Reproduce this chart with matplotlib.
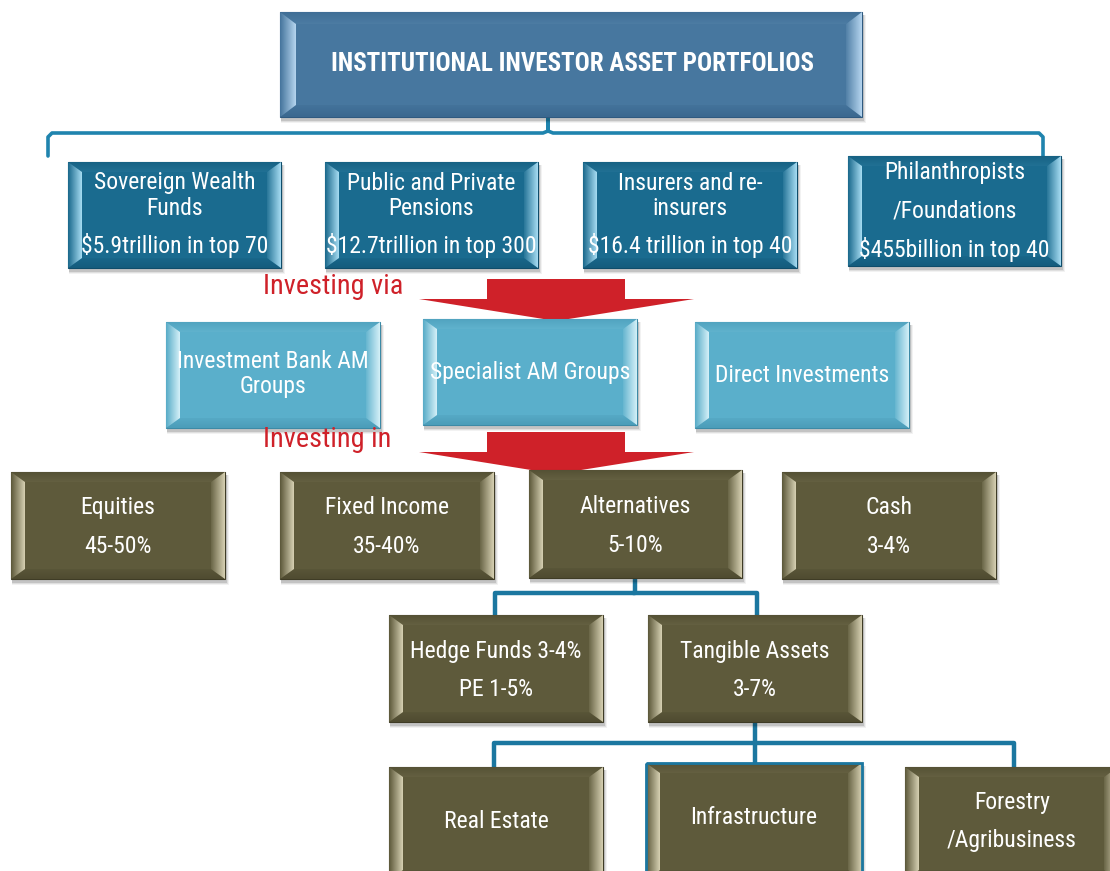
import matplotlib
matplotlib.use("Agg")
import matplotlib.pyplot as plt
import numpy as np
from matplotlib.patches import Polygon, Rectangle
from matplotlib.path import Path
from matplotlib.patches import PathPatch
from matplotlib.colors import to_rgb

# ---- content ----
title = "INSTITUTIONAL INVESTOR ASSET PORTFOLIOS"
investors = [["Sovereign Wealth", "Funds", "$5.9trillion in top 70"],
             ["Public and Private", "Pensions", "$12.7trillion in top 300"],
             ["Insurers and re-", "insurers", "$16.4 trillion in top 40"],
             ["Philanthropists", "/Foundations", "$455billion in top 40"]]
vehicles = [["Investment Bank AM", "Groups"], ["Specialist AM Groups"], ["Direct Investments"]]
asset_classes = [["Equities", "45-50%"], ["Fixed Income", "35-40%"],
                 ["Alternatives", "5-10%"], ["Cash", "3-4%"]]
alternatives = [["Hedge Funds 3-4%", "PE 1-5%"], ["Tangible Assets", "3-7%"]]
tangibles = [["Real Estate"], ["Infrastructure"], ["Forestry", "/Agribusiness"]]
arrow_labels = ["Investing via", "Investing in"]

FONT = ['Roboto Condensed', 'Liberation Sans', 'DejaVu Sans']

fig = plt.figure(figsize=(11.1, 8.71), dpi=100)
ax = fig.add_axes([0, 0, 1, 1])
ax.set_xlim(0, 1110)
ax.set_ylim(871, 0)
ax.axis('off')


def mix(c1, c2, t):
    a = np.array(to_rgb(c1)); b = np.array(to_rgb(c2))
    return a * (1 - t) + b * t


def grad_poly(verts, c_from, c_to, direction, z):
    verts = np.array(verts, float)
    xmin, ymin = verts.min(axis=0); xmax, ymax = verts.max(axis=0)
    n = 64
    t = np.linspace(0, 1, n)
    cols = np.array([mix(c_from, c_to, ti) for ti in t])
    if direction == 'x':
        img = cols[np.newaxis, :, :]
    else:
        img = cols[:, np.newaxis, :]
    im = ax.imshow(img, extent=(xmin, xmax, ymax, ymin), origin='upper',
                   aspect='auto', zorder=z, interpolation='bilinear')
    poly = Polygon(verts, closed=True, facecolor='none', edgecolor='none', zorder=z)
    ax.add_patch(poly)
    im.set_clip_path(poly)


def bevel_box(x0, y0, x1, y1, base, light, dark, z=3, bx=16, by=12, edge=None):
    # shadow
    for k, a in [(6, 0.05), (4, 0.08), (2, 0.12)]:
        ax.add_patch(Rectangle((x0 + 1, y0 + 3), x1 - x0 + k / 2, y1 - y0 + k / 2,
                               facecolor='black', edgecolor='none', alpha=a, zorder=z - 1))
    ax.add_patch(Rectangle((x0, y0), x1 - x0, y1 - y0, facecolor=base,
                           edgecolor=dark, lw=0.8, zorder=z))
    ix0, iy0, ix1, iy1 = x0 + bx, y0 + by, x1 - bx, y1 - by
    # top bevel
    grad_poly([(x0, y0), (x1, y0), (ix1, iy0), (ix0, iy0)],
              mix(base, dark, 0.3), mix(base, light, 0.05), 'y', z + 0.1)
    # bottom bevel
    grad_poly([(ix0, iy1), (ix1, iy1), (x1, y1), (x0, y1)],
              mix(base, dark, 0.15), mix(base, dark, 0.5), 'y', z + 0.1)
    # left bevel: base at outer -> light at inner
    grad_poly([(x0, y0), (ix0, iy0), (ix0, iy1), (x0, y1)],
              mix(base, dark, 0.1), light, 'x', z + 0.2)
    # right bevel: base inner -> light outer
    grad_poly([(ix1, iy0), (x1, y0), (x1, y1), (ix1, iy1)],
              mix(base, light, 0.1), light, 'x', z + 0.2)
    if edge is not None:
        ax.add_patch(Rectangle((x0, y0), x1 - x0, y1 - y0, facecolor='none',
                               edgecolor=edge, lw=2, zorder=z + 0.5))


def box_text(cx, lines_y, lines, size=17, weight='normal'):
    for ty, s in zip(lines_y, lines):
        ax.text(cx, ty, s, ha='center', va='center', color='white', fontsize=size,
                family=FONT, weight=weight, zorder=10)


# ---- connectors ----
LC = '#1b77a0'
bracket = Path([(48, 156), (48, 137), (52, 133), (543, 133), (548, 131), (548, 117),
                (548, 131), (553, 133), (1039, 133), (1043, 137), (1043, 156)],
               [Path.MOVETO] + [Path.LINETO] * 10)
ax.add_patch(PathPatch(bracket, facecolor='none', edgecolor='#1f84ae', lw=2.6,
                       capstyle='round', joinstyle='round', zorder=1))
ax.plot([635, 635, 495, 495], [578, 593, 593, 616], color=LC, lw=3.2, zorder=1, solid_joinstyle='round')
ax.plot([635, 757, 757], [593, 593, 616], color=LC, lw=3.2, zorder=1, solid_joinstyle='round')
ax.plot([755, 755], [722, 766], color=LC, lw=3.2, zorder=1)
ax.plot([494, 494, 1014, 1014], [768, 743, 743, 768], color=LC, lw=3.2, zorder=1, solid_joinstyle='round')

# ---- red arrows ----
RED = '#cf2129'
for (ry, lbl) in zip([279, 432], arrow_labels):
    ax.add_patch(Polygon([(487, ry), (625, ry), (625, ry + 20), (694, ry + 20),
                          (556, ry + 42), (419, ry + 20), (487, ry + 20)],
                         closed=True, facecolor=RED, edgecolor='none', zorder=2))
    ax.text(263, ry + 7, lbl, ha='left', va='center', color=RED, fontsize=20.3,
            family=FONT, zorder=10)

# ---- title ----
bevel_box(280, 12, 862, 117, '#47779f', '#b5d5ef', '#2f5a80', bx=16, by=12)
box_text(572, [64], [title], size=18, weight='bold')

# ---- investors ----
inv_pos = [(68, 162, 281, 268), (325, 162, 538, 268), (583, 162, 797, 268), (848, 156, 1061, 266)]
inv_ty = [[183, 208, 245], [183, 208, 245], [183, 208, 245], [173, 211, 249]]
for (x0, y0, x1, y1), lines, tys in zip(inv_pos, investors, inv_ty):
    bevel_box(x0, y0, x1, y1, '#1a6b8f', '#a6dcf2', '#0f4d6b', bx=14, by=10)
    box_text((x0 + x1) / 2, tys, lines)

# ---- vehicles ----
veh_pos = [(166, 322, 380, 428), (423, 319, 637, 425), (695, 322, 909, 428)]
veh_ty = [[361, 386], [372], [375]]
for (x0, y0, x1, y1), lines, tys in zip(veh_pos, vehicles, veh_ty):
    bevel_box(x0, y0, x1, y1, '#5aafcb', '#d4f0f8', '#3d8aa6', bx=14, by=10)
    box_text((x0 + x1) / 2, tys, lines)

OL, OLL, OLD = '#5e5a3b', '#d6d0b2', '#3f3c26'
# ---- asset classes ----
ac_pos = [(11, 472, 225, 579), (280, 472, 494, 579), (529, 470, 742, 578), (782, 472, 996, 579)]
ac_ty = [[507, 546], [507, 546], [506, 545], [507, 546]]
for (x0, y0, x1, y1), lines, tys in zip(ac_pos, asset_classes, ac_ty):
    bevel_box(x0, y0, x1, y1, OL, OLL, OLD, bx=14, by=10)
    box_text((x0 + x1) / 2, tys, lines)

# ---- alternatives ----
alt_pos = [(389, 615, 603, 722), (648, 615, 862, 722)]
alt_ty = [[651, 689], [651, 689]]
for (x0, y0, x1, y1), lines, tys in zip(alt_pos, alternatives, alt_ty):
    bevel_box(x0, y0, x1, y1, OL, OLL, OLD, bx=14, by=10)
    box_text((x0 + x1) / 2, tys, lines)

# ---- tangibles ----
tan_pos = [(389, 767, 603, 880), (646, 763, 862, 880), (905, 767, 1118, 880)]
tan_ty = [[821], [817], [802, 840]]
for i, ((x0, y0, x1, y1), lines, tys) in enumerate(zip(tan_pos, tangibles, tan_ty)):
    bevel_box(x0, y0, x1, y1, OL, OLL, OLD, bx=14, by=10,
              edge='#1b77a0' if i == 1 else None)
    cx = (x0 + x1) / 2 if i < 2 else 1012
    box_text(cx, tys, lines)

fig.savefig('out.png', dpi=100)
